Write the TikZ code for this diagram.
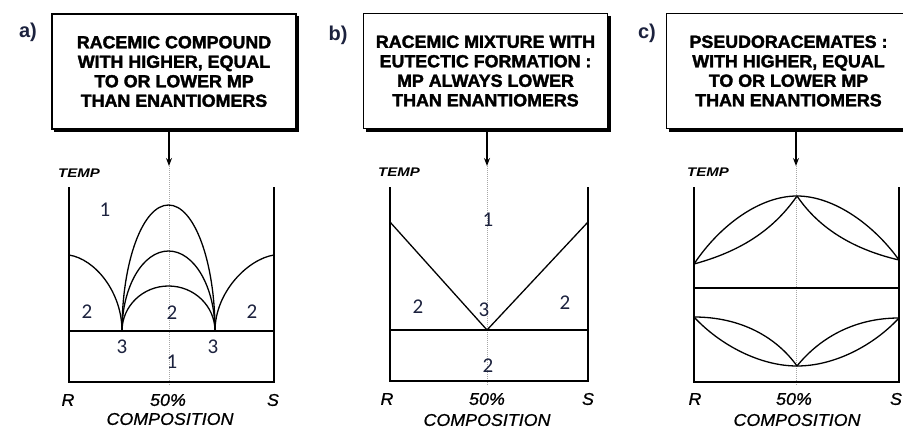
\documentclass[tikz,border=0pt]{standalone}
\usepackage{fontspec}
\setmainfont{Liberation Sans}
\newfontfamily\boxfont[FakeStretch=1.02,FakeBold=2]{Liberation Sans}
\newfontfamily\axfont[FakeStretch=1.05,FakeBold=0.8]{Liberation Sans}
\newfontfamily\tempfont[FakeStretch=1.2]{Liberation Sans}
\newfontfamily\numfont{Carlito}
\usetikzlibrary{arrows.meta}
\definecolor{navy}{RGB}{28,34,62}
\tikzset{
  titlebox/.style={draw, line width=1.3pt, minimum width=244pt, minimum height=115pt,
    align=center, inner sep=0pt, font=\boxfont\bfseries\fontsize{17.5}{19.5}\selectfont},
  shadowline/.style={line width=2.6pt},
  panellabel/.style={font=\bfseries\fontsize{20}{22}\selectfont, text=navy, inner sep=0pt},
  axisline/.style={line width=1.5pt},
  curve/.style={line width=1.3pt},
  eutline/.style={line width=2pt},
  dotline/.style={line width=0.6pt, gray!70, dash pattern=on 1pt off 1pt},
  downarrow/.style={line width=1.6pt, -{Stealth[length=8pt,width=6pt]}},
  templabel/.style={font=\tempfont\bfseries\itshape\fontsize{12.5}{14}\selectfont, inner sep=0pt},
  axlabel/.style={font=\axfont\itshape\fontsize{17}{19}\selectfont, inner sep=0pt},
  num/.style={font=\numfont\fontsize{21}{24}\selectfont, text=navy, inner sep=0pt}
}
\begin{document}
\begin{tikzpicture}[x=1pt,y=-1pt]
\useasboundingbox (0,0) rectangle (903,428);
% ---------- titles ----------
\node[titlebox] (boxa) at (174,71.5) {RACEMIC COMPOUND\\WITH HIGHER, EQUAL\\TO OR LOWER MP\\THAN ENANTIOMERS};
\node[titlebox] (boxb) at (485.5,71) {RACEMIC MIXTURE WITH\\EUTECTIC FORMATION :\\MP ALWAYS LOWER\\THAN ENANTIOMERS};
\node[titlebox] (boxc) at (788.5,71) {PSEUDORACEMATES :\\WITH HIGHER, EQUAL\\TO OR LOWER MP\\THAN ENANTIOMERS};
\draw[shadowline] ([xshift=1.3pt,yshift=-3pt]boxa.north east) -- ([xshift=1.3pt,yshift=-1.3pt]boxa.south east) -- ([xshift=3pt,yshift=-1.3pt]boxa.south west);
\draw[shadowline] ([xshift=1.3pt,yshift=-3pt]boxb.north east) -- ([xshift=1.3pt,yshift=-1.3pt]boxb.south east) -- ([xshift=3pt,yshift=-1.3pt]boxb.south west);
\draw[shadowline] ([xshift=1.3pt,yshift=-1.3pt]boxc.south east) -- ([xshift=3pt,yshift=-1.3pt]boxc.south west);
\node[panellabel] (la) at (28,32) {a)};
\node[panellabel] (lb) at (338,35) {b)};
\node[panellabel] (lc) at (647,33) {c)};
% ---------- arrows ----------
\coordinate (ta) at (169,166);
\coordinate (tb) at (487,166);
\coordinate (tc) at (796,166);
\draw[downarrow] (boxa.south -| ta) -- (ta);
\draw[downarrow] (boxb.south -| tb) -- (tb);
\draw[downarrow] (boxc.south -| tc) -- (tc);
% ---------- panel a ----------
\draw[dotline] (ta) -- (169,386);
\draw[axisline] (69,187) -- (69,382) -- (274,382) -- (274,187);
\draw[eutline] (69,331) -- (274,331);
\draw[curve] (69,255) .. controls (95,259) and (122,292) .. (122,331);
\draw[curve] (274,255) .. controls (248,259) and (215,292) .. (215,331);
\draw[curve] (122,331) .. controls (122,261.4) and (142.8,205) .. (168.5,205) .. controls (194.2,205) and (215,261.4) .. (215,331);
\draw[curve] (122,331) .. controls (122,286.8) and (142.8,251) .. (168.5,251) .. controls (194.2,251) and (215,286.8) .. (215,331);
\draw[curve] (122,331) .. controls (122,306.1) and (142.8,286) .. (168.5,286) .. controls (194.2,286) and (215,306.1) .. (215,331);
\node[templabel] (tempa) at (79,173) {TEMP};
\node[num] (a1) at (105,210) {1};
\node[num] (a2l) at (87,312) {2};
\node[num] (a2m) at (172,313) {2};
\node[num] (a2r) at (252,312) {2};
\node[num] (a3l) at (122,347) {3};
\node[num] (a3r) at (213,347) {3};
\node[num] (a1b) at (172,362) {1};
\node[axlabel] (ra) at (68,400) {R};
\node[axlabel] (pa) at (168,400) {50\%};
\node[axlabel] (sa) at (273,400) {S};
\node[axlabel] (ca) at (170,419) {COMPOSITION};
% ---------- panel b ----------
\draw[dotline] (tb) -- (487,386);
\draw[axisline] (390,187) -- (390,381) -- (588,381) -- (588,187);
\draw[eutline] (390,330) -- (588,330);
\draw[curve] (390,222) -- (487,330) -- (588,222);
\node[templabel] (tempb) at (399,172) {TEMP};
\node[num] (b1) at (488,220) {1};
\node[num] (b2l) at (418,307) {2};
\node[num] (b3) at (484,310) {3};
\node[num] (b2r) at (565,303) {2};
\node[num] (b2b) at (488,366) {2};
\node[axlabel] (rb) at (387,399) {R};
\node[axlabel] (pb) at (487,399) {50\%};
\node[axlabel] (sb) at (588,399) {S};
\node[axlabel] (cb) at (487,420) {COMPOSITION};
% ---------- panel c ----------
\draw[dotline] (tc) -- (796,386);
\draw[axisline] (694,187) -- (694,382) -- (899,382) -- (899,187);
\draw[curve] (694,288) -- (899,288);
\draw[curve] (694,264) .. controls (720,225) and (760,196) .. (797,196);
\draw[curve] (694,264) .. controls (738,252) and (772,232) .. (797,196);
\draw[curve] (899,260) .. controls (874,225) and (834,196) .. (797,196);
\draw[curve] (899,260) .. controls (856,250) and (820,230) .. (797,196);
\draw[curve] (694,317) .. controls (742,317) and (777,338) .. (797,366);
\draw[curve] (694,317) .. controls (720,345) and (760,366) .. (797,366);
\draw[curve] (899,318) .. controls (852,318) and (818,340) .. (797,366);
\draw[curve] (899,318) .. controls (874,345) and (835,366) .. (797,366);
\node[templabel] (tempc) at (708,172) {TEMP};
\node[axlabel] (rc) at (695,399) {R};
\node[axlabel] (pc) at (794,399) {50\%};
\node[axlabel] (sc) at (896,399) {S};
\node[axlabel] (cc) at (797,420) {COMPOSITION};
\end{tikzpicture}
\end{document}
